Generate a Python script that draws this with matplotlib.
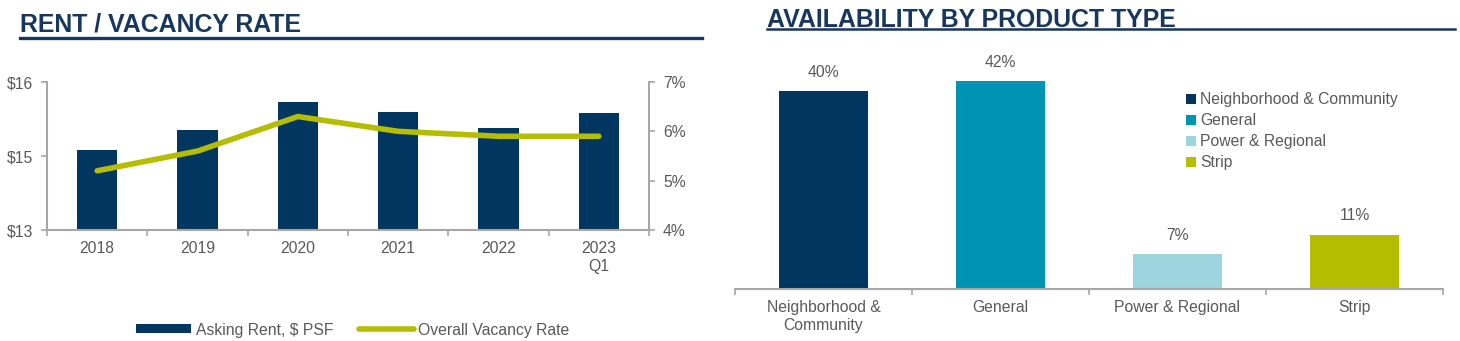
import matplotlib
matplotlib.use("Agg")
import matplotlib.pyplot as plt
from matplotlib.lines import Line2D
from matplotlib.patches import Patch
import numpy as np

plt.rcParams['font.family'] = ['Liberation Sans', 'DejaVu Sans']

# ---- data ----
years = ["2018", "2019", "2020", "2021", "2022", "2023\nQ1"]
asking_rent = [14.63, 15.02, 15.59, 15.39, 15.06, 15.38]
vacancy_rate = [5.2, 5.6, 6.3, 6.0, 5.9, 5.9]

product_types = ["Neighborhood &\nCommunity", "General", "Power & Regional", "Strip"]
legend_names = ["Neighborhood & Community", "General", "Power & Regional", "Strip"]
availability = [40, 42, 7, 11]

NAVY = "#003660"
TEAL = "#0093B2"
LIGHT = "#9DD4DD"
OLIVE = "#B5BD00"
GRAY_AX = "#A6A6A6"
TXT = "#595959"
TITLE = "#17375E"
FS = 11.3

W, H = 1460, 341
fig = plt.figure(figsize=(W / 100, H / 100), dpi=100)

def fx(px):
    return px / W

def fy(py):
    return 1 - py / H

# ---- titles ----
fig.text(fx(20), fy(32), "RENT / VACANCY RATE", fontsize=17.9, fontweight="bold",
         color=TITLE, ha="left", va="baseline")
fig.add_artist(Line2D([fx(20), fx(702)], [fy(38), fy(38)], color=TITLE, lw=2.4,
                      transform=fig.transFigure))
fig.text(fx(767), fy(27), "AVAILABILITY BY PRODUCT TYPE", fontsize=17.9, fontweight="bold",
         color=TITLE, ha="left", va="baseline")
fig.add_artist(Line2D([fx(767), fx(1455)], [fy(28.5), fy(28.5)], color=TITLE, lw=1.8,
                      transform=fig.transFigure))

# ---- left chart ----
axL = fig.add_axes([fx(47), fy(230), fx(649 - 47), (230 - 82) / H])
x = np.arange(len(years))
axL.bar(x, asking_rent, width=0.4, color=NAVY, zorder=2)
axL.set_xlim(-0.5, len(years) - 0.5)
axL.set_ylim(13, 16)
axL.set_yticks([13, 14.5, 16])
axL.set_yticklabels(["$13", "$15", "$16"])
axL.set_xticks(x)
axL.set_xticklabels(years)
axL.set_xticks(np.arange(-0.5, len(years), 1), minor=True)
axL.tick_params(axis="x", which="major", length=0, pad=8, labelsize=FS, labelcolor=TXT)
axL.tick_params(axis="x", which="minor", length=4, color=GRAY_AX, width=1.2)
axL.tick_params(axis="y", length=4, color=GRAY_AX, width=1.2, labelsize=FS, labelcolor=TXT, pad=6)
for s in ["top", "right"]:
    axL.spines[s].set_visible(False)
for s in ["left", "bottom"]:
    axL.spines[s].set_color(GRAY_AX)
    axL.spines[s].set_linewidth(1.5)

axR = axL.twinx()
axR.plot(x, vacancy_rate, color=OLIVE, lw=4, solid_capstyle="round", zorder=3)
axR.set_ylim(4, 7)
axR.set_yticks([4, 5, 6, 7])
axR.set_yticklabels(["4%", "5%", "6%", "7%"])
axR.tick_params(axis="y", length=4, color=GRAY_AX, width=1.2, labelsize=FS, labelcolor=TXT, pad=6)
for s in ["top", "left", "bottom"]:
    axR.spines[s].set_visible(False)
axR.spines["right"].set_color(GRAY_AX)
axR.spines["right"].set_linewidth(1.5)

handles = [Patch(facecolor=NAVY, edgecolor="none"),
           Line2D([0], [0], color=OLIVE, lw=4, solid_capstyle="round")]
fig.legend(handles, ["Asking Rent, $ PSF", "Overall Vacancy Rate"], loc="center",
           bbox_to_anchor=(fx(353), fy(330)), ncol=2, frameon=False, fontsize=FS,
           labelcolor=TXT, handlelength=3.5, handleheight=0.5, handletextpad=0.3,
           columnspacing=1.6)

# ---- right chart ----
top_val = 45
axB = fig.add_axes([fx(735), fy(289), fx(1443 - 735), (top_val * 4.95) / H])
xb = np.arange(len(product_types))
colors = [NAVY, TEAL, LIGHT, OLIVE]
axB.bar(xb, availability, width=0.5, color=colors, zorder=2)
for xi, v in zip(xb, availability):
    axB.annotate(f"{v}%", (xi, v), xytext=(0, 8), textcoords="offset points",
                 ha="center", va="bottom", fontsize=FS, color=TXT, annotation_clip=False)
axB.set_xlim(-0.5, len(product_types) - 0.5)
axB.set_ylim(0, top_val)
axB.set_yticks([])
axB.set_xticks(xb)
axB.set_xticklabels(product_types)
axB.set_xticks(np.arange(-0.5, len(product_types), 1), minor=True)
axB.tick_params(axis="x", which="major", length=0, pad=8, labelsize=FS, labelcolor=TXT)
axB.tick_params(axis="x", which="minor", length=4, color=GRAY_AX, width=1.2)
for s in ["top", "right", "left"]:
    axB.spines[s].set_visible(False)
axB.spines["bottom"].set_color(GRAY_AX)
axB.spines["bottom"].set_linewidth(1.5)

leg_handles = [Patch(facecolor=c, edgecolor="none") for c in colors]
fig.legend(leg_handles, legend_names, loc="upper left",
           bbox_to_anchor=(fx(1180), fy(86)), frameon=False, fontsize=FS,
           labelcolor=TXT, handlelength=0.6, handleheight=0.6, handletextpad=0.3,
           labelspacing=0.38, borderaxespad=0)

fig.savefig("out.png", dpi=100)
